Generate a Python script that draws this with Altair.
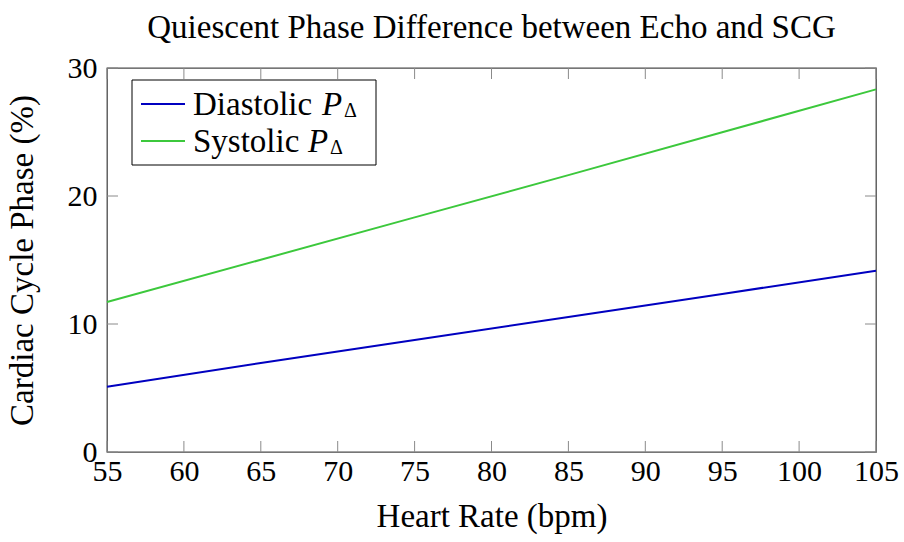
import altair as alt
import pandas as pd

# ---- data ----
heart_rate = [55, 65, 75, 85, 95, 105]
diastolic = [5.10, 6.95, 8.75, 10.55, 12.35, 14.16]
systolic = [11.72, 15.02, 18.33, 21.63, 24.98, 28.33]
series_names = ["Diastolic", "Systolic"]
series_colors = ["#0000c0", "#3cc83c"]
x_ticks = [55, 60, 65, 70, 75, 80, 85, 90, 95, 100, 105]
y_ticks = [0, 10, 20, 30]

FONT = "Liberation Serif"
FS = 33
W, H = 769, 384
TICK = 11

rows = []
for name, vals in zip(series_names, [diastolic, systolic]):
    for x, v in zip(heart_rate, vals):
        rows.append({"hr": x, "phase": v, "series": name})
df = pd.DataFrame(rows)

xscale = alt.Scale(domain=[55, 105], nice=False, zero=False)
yscale = alt.Scale(domain=[0, 30], nice=False)
cscale = alt.Scale(domain=series_names, range=series_colors)

axis_common = dict(ticks=False, domain=False, grid=False, labelFlush=False,
                   labelFont=FONT, labelFontSize=30, labelColor="black",
                   titleFont=FONT, titleFontSize=FS, titleFontWeight="normal",
                   titleColor="black")

lines = alt.Chart(df).mark_line(strokeWidth=2).encode(
    x=alt.X("hr:Q", scale=xscale,
            axis=alt.Axis(title="Heart Rate (bpm)", values=x_ticks,
                          labelPadding=4, titlePadding=14, **axis_common)),
    y=alt.Y("phase:Q", scale=yscale,
            axis=alt.Axis(title="Cardiac Cycle Phase (%)", values=y_ticks,
                          labelPadding=10, titlePadding=28, **axis_common)),
    color=alt.Color("series:N", scale=cscale, legend=None),
)

xt = pd.DataFrame({"t": x_ticks})
yt = pd.DataFrame({"t": y_ticks})
tick_color = "#8a8a8a"

xb = alt.Chart(xt).mark_rule(color=tick_color, strokeWidth=1).encode(
    x=alt.X("t:Q", scale=xscale), y=alt.value(H), y2=alt.value(H - TICK))
xtop = alt.Chart(xt).mark_rule(color=tick_color, strokeWidth=1).encode(
    x=alt.X("t:Q", scale=xscale), y=alt.value(0), y2=alt.value(TICK))
yl = alt.Chart(yt).mark_rule(color=tick_color, strokeWidth=1).encode(
    y=alt.Y("t:Q", scale=yscale), x=alt.value(0), x2=alt.value(TICK))
yr = alt.Chart(yt).mark_rule(color=tick_color, strokeWidth=1).encode(
    y=alt.Y("t:Q", scale=yscale), x=alt.value(W), x2=alt.value(W - TICK))

# ---- custom legend ----
leg = pd.DataFrame({"series": series_names})
box = alt.Chart(pd.DataFrame({"a": [0]})).mark_rect(
    fill="white", stroke="black", strokeWidth=1).encode(
    x=alt.value(25), x2=alt.value(269), y=alt.value(12), y2=alt.value(97))

leg_layers = [box]
p_x = [215, 201]
for i, name in enumerate(series_names):
    yc = 36 + 37 * i
    sub = leg[leg["series"] == name]
    leg_layers.append(alt.Chart(sub).mark_rule(strokeWidth=2).encode(
        x=alt.value(34), x2=alt.value(78), y=alt.value(yc),
        color=alt.Color("series:N", scale=cscale, legend=None)))
    leg_layers.append(alt.Chart(sub).mark_text(
        font=FONT, fontSize=FS, align="left", baseline="alphabetic", color="black").encode(
        x=alt.value(86), y=alt.value(yc + 10.5), text="series:N"))
    leg_layers.append(alt.Chart(sub).mark_text(
        font=FONT, fontSize=FS, fontStyle="italic", align="left",
        baseline="alphabetic", color="black").encode(
        x=alt.value(p_x[i]), y=alt.value(yc + 10.5), text=alt.value("P")))
    leg_layers.append(alt.Chart(sub).mark_text(
        font=FONT, fontSize=20, align="left", baseline="alphabetic", color="black").encode(
        x=alt.value(p_x[i] + 22), y=alt.value(yc + 13), text=alt.value("Δ")))

chart = alt.layer(lines, xb, xtop, yl, yr, *leg_layers).properties(
    width=W, height=H,
    background="white",
    title=alt.TitleParams("Quiescent Phase Difference between Echo and SCG",
                          font=FONT, fontSize=FS, fontWeight="normal",
                          color="black", offset=8),
    padding={"left": 107, "top": 68, "right": 28, "bottom": 90},
    autosize=alt.AutoSizeParams(type="none"),
).configure_view(stroke="#4a4a4a", strokeWidth=1.3)

chart.save("out.html", embed_options={"renderer": "svg", "actions": False})
